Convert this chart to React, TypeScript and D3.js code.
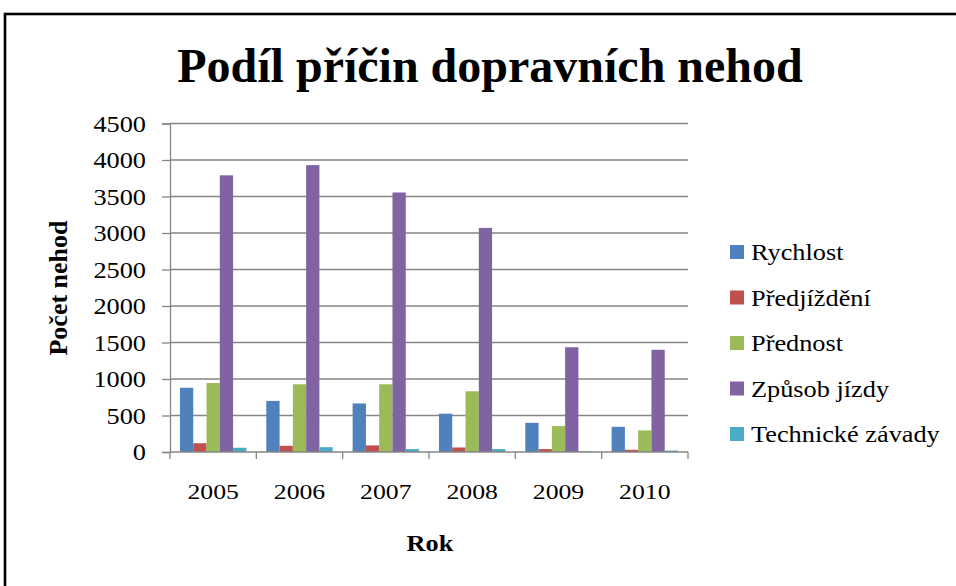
import React, { useEffect, useRef } from 'react';
import * as d3 from 'd3';

const years = ['2005', '2006', '2007', '2008', '2009', '2010'];
const seriesNames = ['Rychlost', 'Předjíždění', 'Přednost', 'Způsob jízdy', 'Technické závady'];
const rychlost = [880, 700, 665, 525, 400, 345];
const predjizdeni = [120, 85, 90, 62, 40, 30];
const prednost = [945, 928, 928, 832, 355, 296];
const zpusobJizdy = [3790, 3930, 3555, 3070, 1435, 1400];
const technicke = [58, 66, 40, 40, 10, 20];
const colors = ['#4f81bd', '#c0504d', '#9bbb59', '#8064a2', '#4bacc6'];
const yTicks = [0, 500, 1000, 1500, 2000, 2500, 3000, 3500, 4000, 4500];

const App = () => {
  const svgRef = useRef<SVGSVGElement>(null);

  useEffect(() => {
    const svg = d3.select(svgRef.current);
    svg.selectAll('*').remove();
    const font = '"Liberation Serif", "Times New Roman", serif';
    const series = [rychlost, predjizdeni, prednost, zpusobJizdy, technicke];
    const sx = 1.17; // the picture is a bit stretched horizontally

    const left = 170, right = 688, top = 123.5, bottom = 452;

    // text placed at (x, y), widened by sx
    const label = (px: number, py: number, txt: string, size: number, anchor: string, bold = false) => {
      svg.append('g').attr('transform', `translate(${px},${py}) scale(${sx},1)`)
        .append('text')
        .attr('text-anchor', anchor)
        .attr('font-family', font).attr('font-size', size)
        .attr('font-weight', bold ? 'bold' : 'normal')
        .text(txt);
    };

    // outer frame
    svg.append('rect')
      .attr('x', 5).attr('y', 14).attr('width', 960).attr('height', 600)
      .attr('fill', 'white').attr('stroke', 'black').attr('stroke-width', 2.6);

    const x = d3.scaleBand().domain(years).range([left, right]).paddingInner(0).paddingOuter(0);
    const inner = d3.scaleBand().domain(seriesNames).range([0, x.bandwidth()]).paddingInner(0).paddingOuter(0.75);
    const y = d3.scaleLinear().domain([0, 4500]).range([bottom, top]);

    // gridlines
    svg.append('g').selectAll('line').data(yTicks.slice(1)).join('line')
      .attr('x1', left).attr('x2', right)
      .attr('y1', (d) => y(d)).attr('y2', (d) => y(d))
      .attr('stroke', '#868686').attr('stroke-width', 1.3);

    // bars
    seriesNames.forEach((name, i) => {
      svg.append('g').selectAll('rect').data(series[i]).join('rect')
        .attr('x', (d, j) => x(years[j])! + inner(name)!)
        .attr('y', (d) => y(d))
        .attr('width', inner.bandwidth())
        .attr('height', (d) => bottom - y(d))
        .attr('fill', colors[i]);
    });

    // y axis
    const yAxis = svg.append('g')
      .attr('transform', `translate(${left},0)`)
      .call(d3.axisLeft(y).tickValues(yTicks).tickSize(8).tickFormat(() => ''));
    yAxis.selectAll('line, path').attr('stroke', '#868686').attr('stroke-width', 1.3);
    yTicks.forEach((v) => label(146, y(v) + 8, String(v), 22.5, 'end'));

    // x axis
    const xAxis = svg.append('g').attr('transform', `translate(0,${bottom})`);
    xAxis.append('line').attr('x1', left).attr('x2', right)
      .attr('stroke', '#868686').attr('stroke-width', 1.3);
    const tickX = years.map((yr) => x(yr)!).concat([right]);
    xAxis.selectAll('line.tick').data(tickX).join('line')
      .attr('class', 'tick')
      .attr('x1', (d) => d).attr('x2', (d) => d).attr('y1', 0).attr('y2', 7)
      .attr('stroke', '#868686').attr('stroke-width', 1.3);
    years.forEach((yr) => label(x(yr)! + x.bandwidth() / 2, 499, yr, 22, 'middle'));

    // title
    svg.append('text')
      .attr('x', 490).attr('y', 82)
      .attr('text-anchor', 'middle')
      .attr('font-family', font).attr('font-weight', 'bold').attr('font-size', 48)
      .text('Podíl příčin dopravních nehod');

    // axis titles
    label(430, 551, 'Rok', 22.5, 'middle', true);
    svg.append('text')
      .attr('transform', 'translate(67,288) rotate(-90)')
      .attr('text-anchor', 'middle')
      .attr('font-family', font).attr('font-weight', 'bold').attr('font-size', 26)
      .text('Počet nehod');

    // legend
    seriesNames.forEach((name, i) => {
      const cy = 252 + i * 45.5;
      svg.append('rect').attr('x', 730).attr('y', cy - 7).attr('width', 14).attr('height', 14).attr('fill', colors[i]);
      label(751, cy + 8, name, 22.5, 'start');
    });
  }, []);

  return (
    <svg ref={svgRef} width={956} height={586} style={{ position: 'absolute', left: 0, top: 0 }}></svg>
  );
};

export default App;
